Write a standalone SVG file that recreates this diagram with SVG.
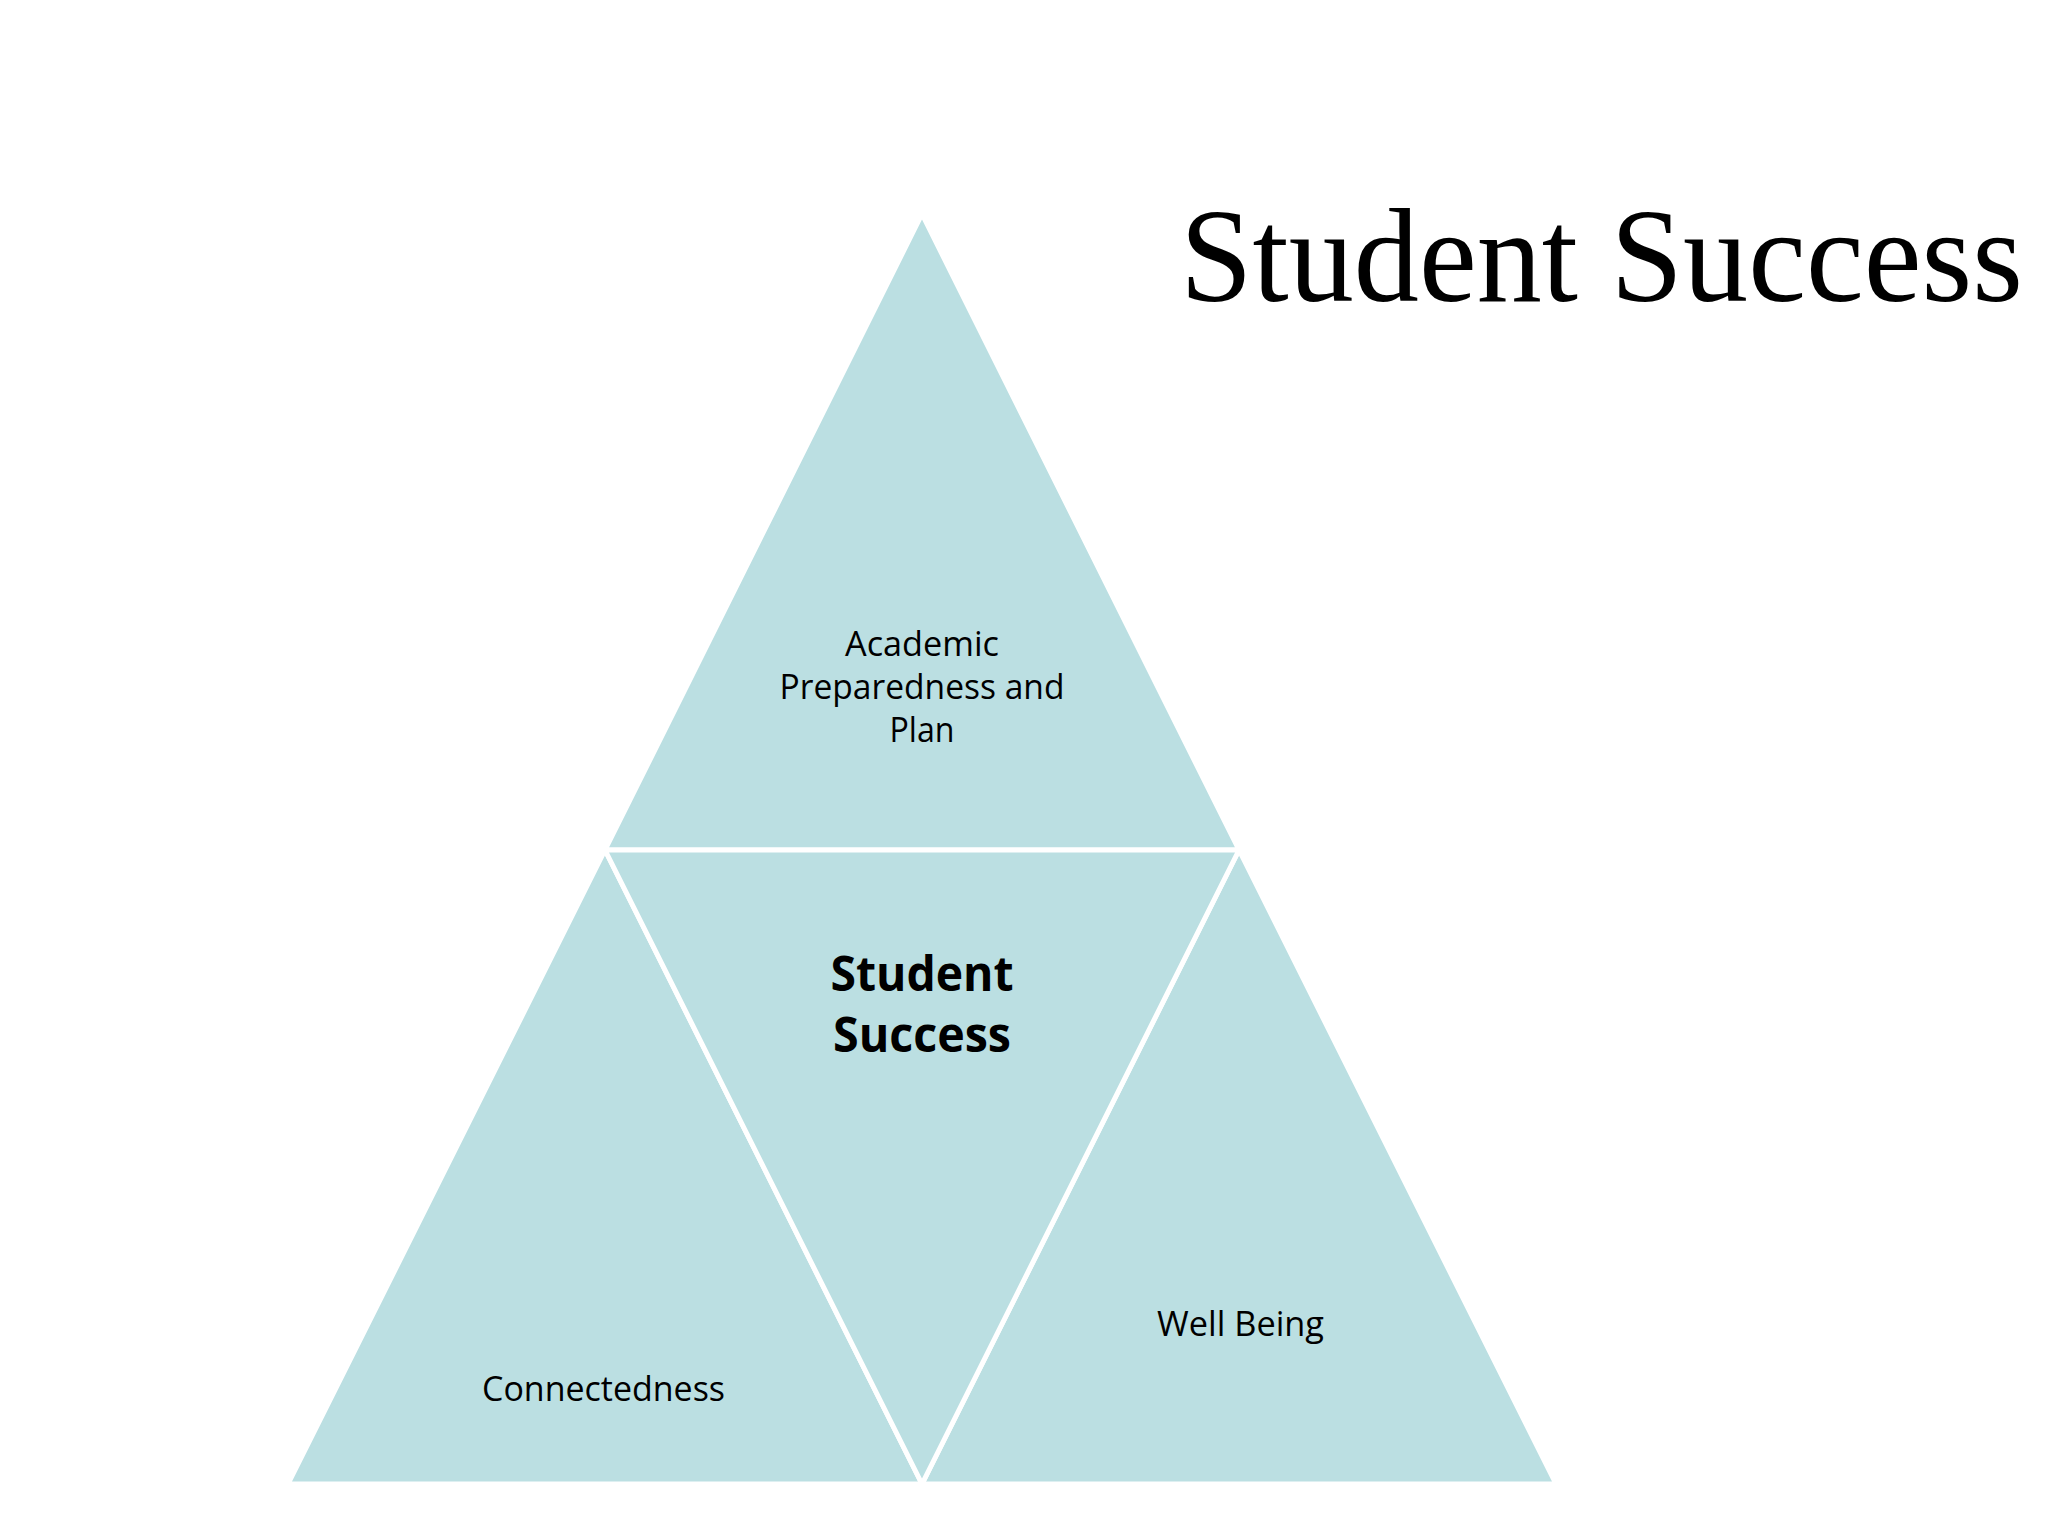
<svg xmlns="http://www.w3.org/2000/svg" width="2048" height="1536" viewBox="0 0 2048 1536">
<style>
.tri{fill:#bbdfe2;stroke:#ffffff;stroke-width:5;stroke-linejoin:miter}
.lbl{font-family:"Open Sans","Liberation Sans",sans-serif;font-size:34px;fill:#000000;text-anchor:middle}
.bold{font-family:"Open Sans","Liberation Sans",sans-serif;font-size:48px;font-weight:bold;fill:#000000;text-anchor:middle}
.title{font-family:"Liberation Serif","DejaVu Serif",serif;font-size:134px;fill:#000000}
</style>
<rect width="2048" height="1536" fill="#ffffff"/>
<text class="title" x="1180" y="301" textLength="843" lengthAdjust="spacingAndGlyphs">Student Success</text>
<g id="node-academic">
<polygon class="tri" points="922,214 1239,850 605,850"/>
<text class="lbl" x="922" y="656" textLength="154" lengthAdjust="spacingAndGlyphs">Academic</text>
<text class="lbl" x="922" y="699" textLength="285" lengthAdjust="spacingAndGlyphs">Preparedness and</text>
<text class="lbl" x="922" y="742" textLength="65" lengthAdjust="spacingAndGlyphs">Plan</text>
</g>
<g id="node-connectedness">
<polygon class="tri" points="605,850 922,1484 288,1484"/>
<text class="lbl" x="603.5" y="1401" textLength="243" lengthAdjust="spacingAndGlyphs">Connectedness</text>
</g>
<g id="node-wellbeing">
<polygon class="tri" points="1239,850 1556,1484 922,1484"/>
<text class="lbl" x="1240.5" y="1336" textLength="167" lengthAdjust="spacingAndGlyphs">Well Being</text>
</g>
<g id="node-center">
<polygon class="tri" points="605,850 1239,850 922,1484"/>
<text class="bold" x="922" y="991" textLength="183" lengthAdjust="spacingAndGlyphs">Student</text>
<text class="bold" x="922" y="1052" textLength="178" lengthAdjust="spacingAndGlyphs">Success</text>
</g>
<g id="connectors"></g>
</svg>
